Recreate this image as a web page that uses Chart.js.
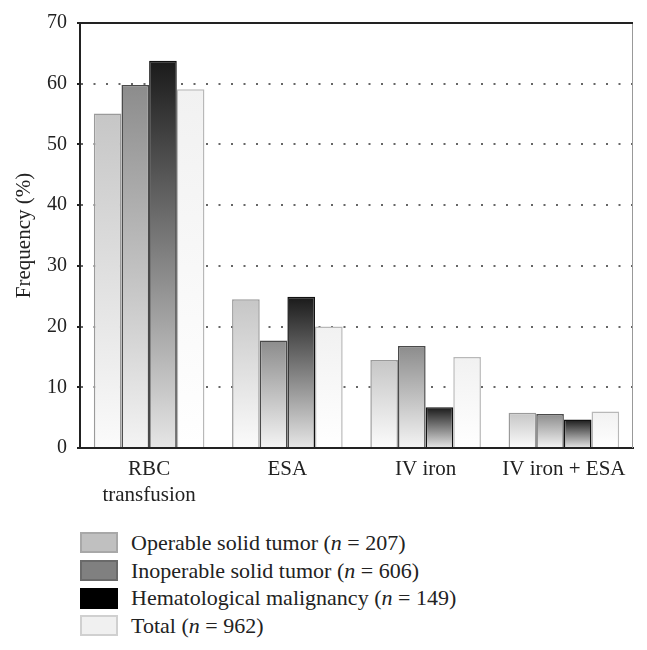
<!DOCTYPE html>
<html>
<head>
<meta charset="utf-8">
<script src="https://cdn.jsdelivr.net/npm/chart.js@4/dist/chart.umd.min.js"></script>
<style>
  body { margin: 0; background: #fff; }
  #wrap { position: relative; width: 647px; height: 650px; }
  #legend { position: absolute; left: 80px; top: 529px; font-family: 'Liberation Serif', serif; font-size: 22px; color: #222; }
  #legend div { height: 27.7px; display: flex; align-items: center; }
  #legend span.box { display: inline-block; width: 38px; height: 21px; margin-right: 13px; box-sizing: border-box; border: 2px solid; }
</style>
</head>
<body>
<div id="wrap">
  <canvas id="grafico" width="647" height="520"></canvas>
  <div id="legend"></div>
</div>
<script>
var categories = [['RBC', 'transfusion'], 'ESA', 'IV iron', 'IV iron + ESA'];
var operable = [55.1, 24.5, 14.5, 5.8];
var inoperable = [59.8, 17.7, 16.8, 5.6];
var hematological = [63.8, 24.9, 6.7, 4.7];
var total = [59.1, 20.0, 15.0, 6.0];
var yTicks = [0, 10, 20, 30, 40, 50, 60, 70];

var font = 'Liberation Serif';

// vertical gradient from the top of each bar down to the zero line
function barGradient(top, bottom) {
    return function (c) {
        var chart = c.chart;
        if (!chart.chartArea || c.type !== 'data') return top;
        var y = chart.scales.y;
        var g = chart.ctx.createLinearGradient(0, y.getPixelForValue(c.parsed.y), 0, y.getPixelForValue(0));
        g.addColorStop(0, top);
        g.addColorStop(1, bottom);
        return g;
    };
}

var series = [
    { label: 'Operable solid tumor (n = 207)', data: operable, top: '#c6c6c6', bottom: '#fbfbfb', border: '#9a9a9a', key: '#c0c0c0', keyBorder: '#a8a8a8' },
    { label: 'Inoperable solid tumor (n = 606)', data: inoperable, top: '#8c8c8c', bottom: '#f4f4f4', border: '#4a4a4a', key: '#808080', keyBorder: '#6a6a6a' },
    { label: 'Hematological malignancy (n = 149)', data: hematological, top: '#1a1a1a', bottom: '#e6e6e6', border: '#111111', key: '#000000', keyBorder: '#000000' },
    { label: 'Total (n = 962)', data: total, top: '#f1f1f1', bottom: '#ffffff', border: '#b8b8b8', key: '#f0f0f0', keyBorder: '#d0d0d0' }
];

var data = {
    labels: categories,
    datasets: series.map(function (s) {
        return {
            label: s.label,
            data: s.data,
            backgroundColor: barGradient(s.top, s.bottom),
            borderColor: s.border,
            borderWidth: 1.5,
            barPercentage: 1.0,
            categoryPercentage: 0.8
        };
    })
};

// top frame line and light right edge
var frame = {
    id: 'frame',
    afterDraw: function (chart) {
        var a = chart.chartArea, ctx = chart.ctx;
        ctx.save();
        ctx.strokeStyle = '#999';
        ctx.lineWidth = 1;
        ctx.beginPath();
        ctx.moveTo(a.right - 0.5, a.top);
        ctx.lineTo(a.right - 0.5, a.bottom);
        ctx.stroke();
        ctx.strokeStyle = '#222';
        ctx.lineWidth = 2;
        ctx.beginPath();
        ctx.moveTo(a.left, a.top);
        ctx.lineTo(a.right, a.top);
        ctx.stroke();
        ctx.restore();
    }
};

var options = {
    responsive: false,
    animation: false,
    layout: { padding: { left: 0, right: 14, top: 23, bottom: 0 } },
    plugins: { legend: { display: false }, tooltip: { enabled: false } },
    scales: {
        x: {
            grid: { display: false, drawTicks: false },
            border: { color: '#222', width: 2 },
            ticks: { color: '#222', padding: 8, font: { family: font, size: 21, lineHeight: 1.24 } },
            afterFit: function (s) { s.height = 72; s.paddingLeft = 0; s.paddingRight = 0; }
        },
        y: {
            min: 0,
            max: 70,
            afterBuildTicks: function (s) { s.ticks = yTicks.map(function (v) { return { value: v }; }); },
            grid: {
                color: function (c) { return (c.tick && (c.tick.value === 0 || c.tick.value === 70)) ? 'rgba(0,0,0,0)' : '#666'; },
                lineWidth: 2,
                tickColor: '#222',
                tickLength: 3
            },
            border: { color: '#222', width: 2, dash: [2, 10.5] },
            ticks: { color: '#222', padding: 10, font: { family: font, size: 20 } },
            title: { display: true, text: 'Frequency (%)', color: '#222', padding: { top: 12, bottom: 0 }, font: { family: font, size: 21 } },
            afterFit: function (s) { s.width = 80; s.paddingTop = 0; s.paddingBottom = 0; }
        }
    }
};

var ctx = document.querySelector('#grafico').getContext('2d');
var barChart = new Chart(ctx, {
    type: 'bar',
    data: data,
    options: options,
    plugins: [frame]
});

var legend = document.querySelector('#legend');
series.forEach(function (s) {
    var row = document.createElement('div');
    var box = document.createElement('span');
    box.className = 'box';
    box.style.background = s.key;
    box.style.borderColor = s.keyBorder;
    var text = document.createElement('span');
    text.innerHTML = s.label.replace('(n =', '(<i>n</i> =');
    row.appendChild(box);
    row.appendChild(text);
    legend.appendChild(row);
});
</script>
</body>
</html>
